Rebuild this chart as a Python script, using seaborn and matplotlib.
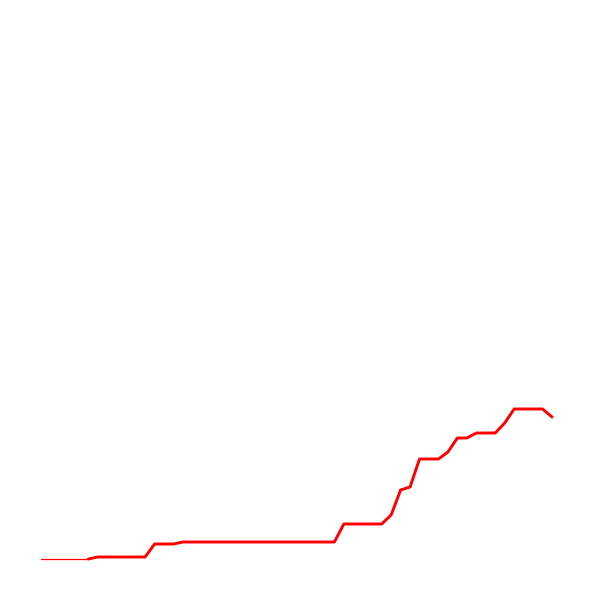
import numpy as np
import pandas as pd
import matplotlib
matplotlib.use("Agg")
import matplotlib.pyplot as plt
import seaborn as sns

# ---------- data ----------
steps = list(range(55))
values = [0, 0, 0, 0, 0, 0, 2, 2, 2, 2,
          2, 2, 15, 15, 15, 17, 17, 17, 17, 17,
          17, 17, 17, 17, 17, 17, 17, 17, 17, 17,
          17, 17, 35, 35, 35, 35, 35, 44, 69, 72,
          100, 100, 100, 107, 121, 121, 126, 126, 126, 136,
          150, 150, 150, 150, 142]
thin_until = 5  # first stretch is drawn with a hairline

df = pd.DataFrame({"step": steps, "value": values})

sns.set_style("white")
fig = plt.figure(figsize=(6, 6), dpi=100)
ax = fig.add_axes([0, 0, 1, 1])

head = df[df["step"] <= thin_until]
tail = df[df["step"] >= thin_until]
sns.lineplot(data=head, x="step", y="value", color="#ff0000", linewidth=0.9, ax=ax)
sns.lineplot(data=tail, x="step", y="value", color="#ff0000", linewidth=2.1, ax=ax)

ax.set_xlim(-4.333, 59.07)
ax.set_ylim(-41, 559)
ax.set_axis_off()

fig.savefig("out.png", dpi=100, facecolor="white")
plt.close(fig)
